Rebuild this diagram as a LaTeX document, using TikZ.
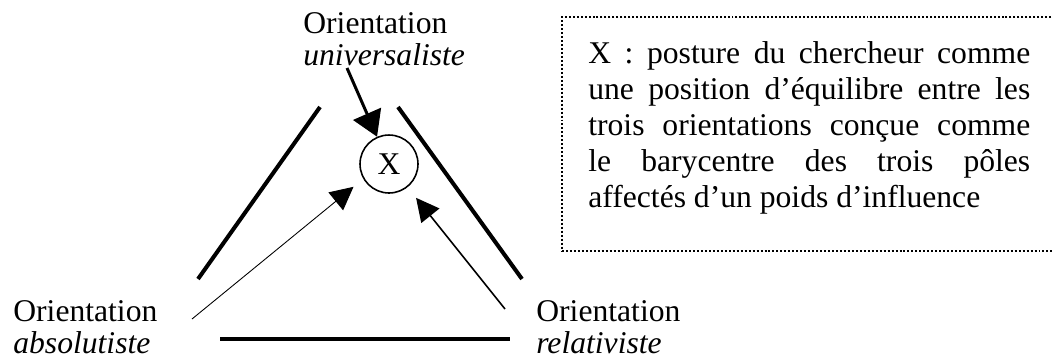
\documentclass[tikz,border=0pt]{standalone}
\usepackage{fontspec}
\setmainfont{Liberation Serif}
\usetikzlibrary{arrows.meta,positioning}

\begin{document}
\begin{tikzpicture}[x=0.02cm, y=-0.02cm,
  lbl/.style={align=left, inner sep=0pt, anchor=base west,
              font=\fontsize{18}{18.2}\selectfont},
  side/.style={line width=2.3pt},
  pull/.style={-{Triangle[length=0.5cm, width=0.6cm]}, line width=1.7pt},
  push/.style={-{Triangle[length=0.46cm, width=0.46cm]}},
  pole/.style={circle, draw, line width=0.9pt, minimum size=1.16cm, inner sep=0pt,
               font=\fontsize{18}{18}\selectfont}
]
  \useasboundingbox (0,0) rectangle (1053,360);

  % the three poles
  \node[lbl] (univ) at (303,65)  {Orientation\\\textit{universaliste}};
  \node[lbl] (abs)  at (13,353)  {Orientation\\\textit{absolutiste}};
  \node[lbl] (rel)  at (536,353) {Orientation\\\textit{relativiste}};

  \node[pole] (X) at (389,164) {X};

  % sides of the triangle
  \draw[side] (320,107) -- (198,279);
  \draw[side] (398,107) -- (522,279);
  \draw[side] (220,339) -- (510,339);

  \coordinate (fromU) at (347,68);
  \coordinate (fromA) at (192,319);
  \coordinate (fromR) at (505,309);

  \draw[pull] (fromU) -- (X);
  \draw[push, line width=0.5pt, shorten >=0.25cm] (fromA) -- (X.210);
  \draw[push, line width=0.9pt, shorten >=0.27cm] (fromR) -- (X);

  % legend
  \node[draw, dash pattern=on 1.13pt off 1.13pt, line width=1.13pt,
        minimum width=9.86cm, minimum height=4.68cm, anchor=north west]
        (box) at (561,16) {};
  \node[lbl, text width=8.84cm, align=justify,
        font=\fontsize{18}{20.6}\selectfont] (legend) at (588,63)
        {X : posture du chercheur comme\linebreak
        une position d’équilibre entre les\linebreak
        trois orientations conçue comme\linebreak
        le barycentre des trois pôles\linebreak
        affectés d’un poids d’influence};
\end{tikzpicture}
\end{document}
